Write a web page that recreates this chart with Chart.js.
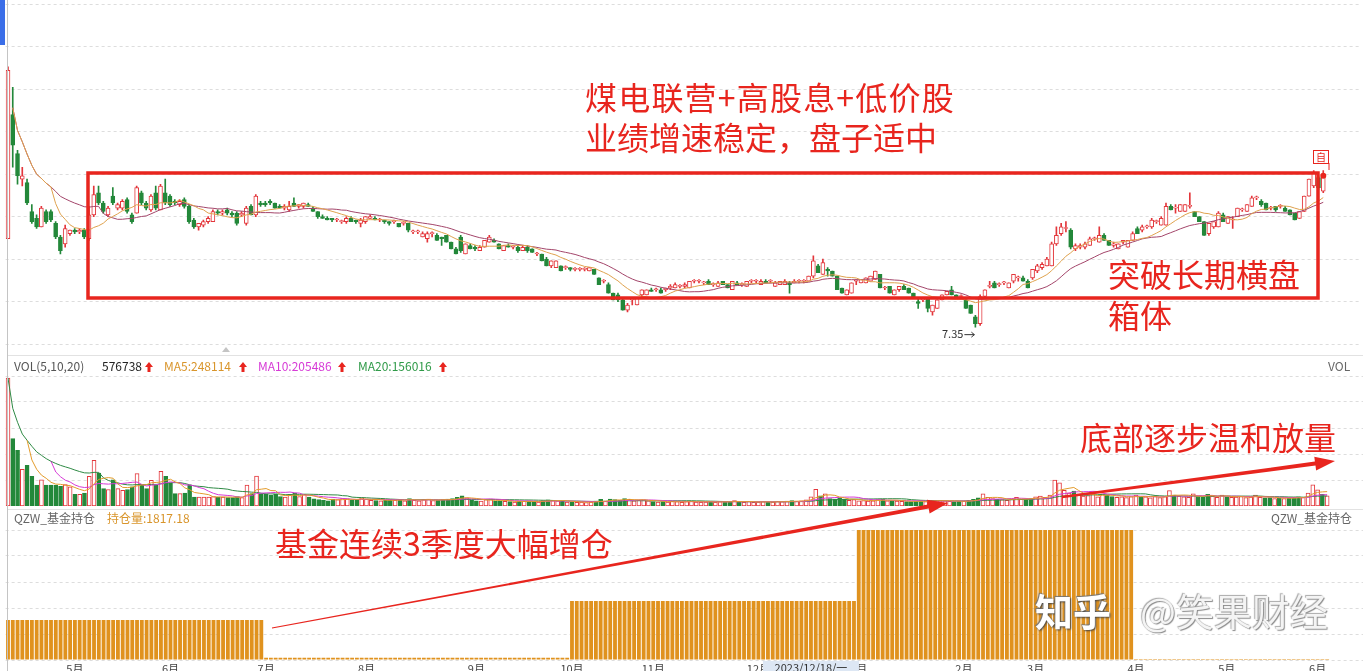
<!DOCTYPE html>
<html>
<head>
<meta charset="utf-8">
<script src="https://cdn.jsdelivr.net/npm/chart.js@4.4.1/dist/chart.umd.min.js"></script>
<style>
  body { margin: 0; background: #fff; }
  #wrap { position: relative; width: 1363px; height: 671px; overflow: hidden; background: #fff;
          font-family: "Noto Sans CJK SC", "Noto Sans", sans-serif; }
  canvas, svg.over { position: absolute; left: 0; }
  .lbl { position: absolute; font-size: 12px; line-height: 16px; white-space: nowrap; color: #555; }
  .note { position: absolute; font-size: 32px; line-height: 32px; color: #e8251e; white-space: nowrap; }
  .up { position: absolute; }
  .wm { position: absolute; top: 590px; font-size: 38px; line-height: 40px; white-space: nowrap; }
</style>
</head>
<body>
<div id="wrap">
  <canvas id="price" width="1363" height="355" style="top:0"></canvas>
  <canvas id="vol" width="1363" height="130" style="top:376px"></canvas>
  <canvas id="fund" width="1363" height="146" style="top:525px"></canvas>

  <svg class="over" width="1363" height="671" style="top:0">
    <rect x="0" y="0" width="5" height="45" fill="#3b6ee8"/>
    <line x1="7.5" y1="0" x2="7.5" y2="671" stroke="#c4c4c4"/>
    <line x1="8" y1="355.5" x2="1363" y2="355.5" stroke="#e2e2e2"/>
    <line x1="8" y1="509.5" x2="1363" y2="509.5" stroke="#e2e2e2"/>
    <path d="M222,352 L226,347 L230,352 Z" fill="#c4c4c4"/>
    <rect x="88" y="173" width="1230" height="125" fill="none" stroke="#e8251e" stroke-width="3.5"/>
    <polygon fill="#e8251e" points="272.1,628.5 928.7,508.6 929.6,513.5 948,503 927,499.7 927.9,504.6 271.9,627.5"/>
    <polygon fill="#e8251e" points="1062.1,498.2 1315.5,465.6 1316.1,470.5 1335,461 1314.3,456.7 1314.9,461.6 1061.9,495.8"/>
    <line x1="1329" y1="163" x2="1329" y2="170" stroke="#e8251e"/>
    <rect x="1313.5" y="150.5" width="15" height="13" fill="#fff" stroke="#e8251e"/>
    <text x="1321" y="161" font-size="10" fill="#e8251e" text-anchor="middle" font-family="Noto Sans CJK SC">自</text>
  </svg>

  <div class="lbl" style="left:14px;top:358px">VOL(5,10,20)</div>
  <div class="lbl" style="left:102px;top:358px;color:#222">576738</div>
  <svg class="up" width="8" height="10" style="left:145px;top:362px"><path d="M4 0 L8 5 L5.5 5 L5.5 10 L2.5 10 L2.5 5 L0 5Z" fill="#e8251e"/></svg>
  <div class="lbl" style="left:164px;top:358px;color:#d9952b">MA5:248114</div>
  <svg class="up" width="8" height="10" style="left:239px;top:362px"><path d="M4 0 L8 5 L5.5 5 L5.5 10 L2.5 10 L2.5 5 L0 5Z" fill="#e8251e"/></svg>
  <div class="lbl" style="left:258px;top:358px;color:#d63ad6">MA10:205486</div>
  <svg class="up" width="8" height="10" style="left:338px;top:362px"><path d="M4 0 L8 5 L5.5 5 L5.5 10 L2.5 10 L2.5 5 L0 5Z" fill="#e8251e"/></svg>
  <div class="lbl" style="left:358px;top:358px;color:#2f9a48">MA20:156016</div>
  <svg class="up" width="8" height="10" style="left:439px;top:362px"><path d="M4 0 L8 5 L5.5 5 L5.5 10 L2.5 10 L2.5 5 L0 5Z" fill="#e8251e"/></svg>
  <div class="lbl" style="left:1328px;top:358px;color:#666">VOL</div>

  <div class="lbl" style="left:14px;top:510px;color:#666">QZW_基金持仓</div>
  <div class="lbl" style="left:107px;top:510px;color:#d9952b">持仓量:1817.18</div>
  <div class="lbl" style="left:1271px;top:510px;color:#666">QZW_基金持仓</div>

  <div class="note" style="left:585px;top:80px;letter-spacing:1.2px">煤电联营+高股息+低价股</div>
  <div class="note" style="left:585px;top:120px">业绩增速稳定，盘子适中</div>
  <div class="note" style="left:1108px;top:257px">突破长期横盘</div>
  <div class="note" style="left:1108px;top:298px">箱体</div>
  <div class="note" style="left:1080px;top:420px">底部逐步温和放量</div>
  <div class="note" style="left:275px;top:526px">基金连续3季度大幅增仓</div>

  <div class="wm" style="left:1035px;color:#fff;font-weight:bold;text-shadow:1px 1px 2px #444,-1px -1px 1px #777">知乎</div>
  <div class="wm" style="left:1140px;color:#f4f4f4;text-shadow:1px 1px 1px #8a8a8a,-1px -1px 1px #aaa">@笑果财经</div>
</div>

<script>
// trading days per month
const months = [
  ['2023-04', 14], ['2023-05', 20], ['2023-06', 20], ['2023-07', 21], ['2023-08', 23],
  ['2023-09', 20], ['2023-10', 17], ['2023-11', 22], ['2023-12', 21], ['2024-01', 22],
  ['2024-02', 15], ['2024-03', 21], ['2024-04', 19], ['2024-05', 19], ['2024-06', 3]
];

// daily [open, high, low, close]
const candles = [
  [7.87,8.88,7.87,8.86],[8.60,8.76,8.29,8.42],[8.37,8.39,8.19,8.24],[8.22,8.29,8.18,8.24],[8.20,8.22,8.07,8.08],
  [8.03,8.07,7.96,7.97],[7.99,8.01,7.93,7.94],[7.94,8.06,7.94,8.05],[8.03,8.04,7.96,7.97],[8.03,8.04,7.97,7.98],
  [7.96,7.97,7.87,7.88],[7.88,7.89,7.78,7.80],[7.84,7.95,7.82,7.93],[7.90,7.92,7.89,7.92],[7.92,7.93,7.90,7.91],
  [7.91,7.93,7.90,7.92],[7.92,7.93,7.87,7.88],[7.87,8.06,7.86,8.01],[8.01,8.18,8.00,8.13],[8.14,8.18,8.07,8.08],
  [8.08,8.09,8.02,8.03],[8.01,8.06,8.00,8.05],[8.12,8.17,8.07,8.08],[8.05,8.08,8.04,8.07],[8.05,8.10,8.04,8.09],
  [8.10,8.11,8.02,8.03],[8.01,8.02,7.96,7.97],[8.02,8.18,8.02,8.17],[8.14,8.15,8.07,8.08],[8.08,8.09,8.04,8.05],
  [8.04,8.13,8.03,8.12],[8.14,8.18,8.04,8.05],[8.04,8.19,8.04,8.18],[8.14,8.22,8.07,8.08],[8.12,8.13,8.06,8.07],
  [8.09,8.10,8.07,8.08],[8.07,8.10,8.06,8.09],[8.10,8.11,8.05,8.06],[8.06,8.07,7.96,7.97],[7.98,7.99,7.93,7.94],
  [7.94,7.96,7.92,7.96],[7.95,7.98,7.94,7.97],[7.97,8.00,7.96,7.99],[7.97,8.04,7.97,8.03],[8.03,8.04,8.01,8.02],
  [8.02,8.04,8.01,8.03],[8.04,8.05,8.01,8.02],[8.02,8.03,8.00,8.01],[8.02,8.03,7.95,7.96],[8.01,8.03,8.00,8.02],
  [7.96,8.06,7.95,8.05],[8.06,8.07,8.01,8.01],[8.01,8.13,8.00,8.12],[8.08,8.09,8.06,8.07],[8.08,8.09,8.06,8.07],
  [8.09,8.10,8.07,8.08],[8.08,8.08,8.05,8.05],[8.06,8.07,8.05,8.05],[8.05,8.07,8.04,8.06],[8.04,8.09,8.03,8.06],
  [8.08,8.11,8.06,8.06],[8.06,8.07,8.05,8.07],[8.06,8.08,8.05,8.08],[8.07,8.08,8.06,8.06],[8.05,8.06,8.03,8.03],
  [8.03,8.03,7.99,8.00],[8.00,8.01,7.99,7.99],[7.99,8.00,7.98,7.98],[7.99,7.99,7.97,7.98],[7.98,7.99,7.97,7.98],
  [7.97,7.98,7.96,7.97],[7.97,8.00,7.96,7.99],[7.99,8.00,7.97,7.97],[7.98,7.98,7.96,7.97],[7.96,7.99,7.94,7.98],
  [7.97,8.00,7.96,8.00],[7.99,8.01,7.99,8.00],[7.99,8.00,7.98,7.98],[7.98,7.99,7.97,7.98],[7.98,7.98,7.96,7.97],
  [7.97,7.97,7.95,7.96],[7.97,7.98,7.96,7.97],[7.96,7.96,7.94,7.94],[7.96,7.97,7.95,7.96],[7.96,7.96,7.91,7.92],
  [7.91,7.92,7.90,7.91],[7.91,7.92,7.90,7.91],[7.88,7.91,7.88,7.90],[7.87,7.91,7.85,7.90],[7.90,7.91,7.88,7.90],
  [7.89,7.90,7.86,7.86],[7.88,7.88,7.83,7.87],[7.89,7.89,7.85,7.85],[7.85,7.85,7.81,7.81],[7.81,7.82,7.78,7.78],
  [7.88,7.89,7.79,7.80],[7.78,7.84,7.78,7.84],[7.83,7.84,7.81,7.81],[7.82,7.83,7.80,7.81],[7.80,7.83,7.80,7.82],
  [7.82,7.86,7.82,7.86],[7.85,7.89,7.85,7.88],[7.86,7.87,7.85,7.85],[7.84,7.84,7.81,7.81],[7.80,7.83,7.80,7.83],
  [7.83,7.84,7.82,7.82],[7.82,7.83,7.81,7.82],[7.82,7.83,7.79,7.80],[7.80,7.83,7.80,7.82],[7.82,7.83,7.79,7.80],
  [7.81,7.81,7.79,7.79],[7.78,7.79,7.77,7.78],[7.78,7.78,7.74,7.74],[7.75,7.76,7.71,7.71],[7.71,7.74,7.70,7.74],
  [7.70,7.74,7.70,7.74],[7.71,7.71,7.68,7.68],[7.70,7.71,7.69,7.70],[7.70,7.70,7.68,7.69],[7.69,7.70,7.68,7.69],
  [7.69,7.70,7.68,7.69],[7.69,7.70,7.68,7.69],[7.68,7.70,7.68,7.70],[7.69,7.69,7.66,7.66],[7.64,7.64,7.60,7.60],
  [7.62,7.63,7.61,7.62],[7.60,7.61,7.55,7.55],[7.55,7.55,7.51,7.51],[7.54,7.55,7.50,7.51],[7.51,7.52,7.45,7.45],
  [7.45,7.49,7.44,7.48],[7.51,7.52,7.48,7.51],[7.48,7.52,7.48,7.52],[7.54,7.57,7.53,7.57],[7.54,7.57,7.54,7.57],
  [7.57,7.58,7.56,7.56],[7.57,7.58,7.56,7.57],[7.57,7.58,7.55,7.55],[7.57,7.58,7.56,7.58],[7.58,7.60,7.57,7.59],
  [7.58,7.61,7.58,7.60],[7.59,7.60,7.58,7.59],[7.59,7.61,7.58,7.60],[7.58,7.62,7.58,7.62],[7.62,7.63,7.61,7.62],
  [7.62,7.63,7.61,7.62],[7.61,7.62,7.60,7.61],[7.62,7.63,7.60,7.60],[7.60,7.61,7.59,7.60],[7.59,7.62,7.59,7.61],
  [7.62,7.62,7.60,7.60],[7.60,7.60,7.58,7.58],[7.57,7.62,7.57,7.62],[7.61,7.62,7.60,7.60],[7.60,7.61,7.59,7.60],
  [7.59,7.62,7.59,7.62],[7.62,7.63,7.61,7.62],[7.62,7.63,7.61,7.62],[7.60,7.63,7.60,7.62],[7.62,7.63,7.61,7.61],
  [7.62,7.63,7.61,7.62],[7.59,7.62,7.59,7.61],[7.60,7.62,7.60,7.62],[7.60,7.63,7.60,7.62],[7.61,7.62,7.55,7.60],
  [7.61,7.63,7.61,7.62],[7.62,7.63,7.61,7.62],[7.62,7.63,7.61,7.62],[7.62,7.65,7.62,7.65],[7.65,7.77,7.64,7.74],
  [7.71,7.72,7.67,7.67],[7.66,7.75,7.66,7.73],[7.69,7.70,7.65,7.68],[7.68,7.68,7.65,7.65],[7.65,7.65,7.57,7.57],
  [7.58,7.58,7.55,7.55],[7.54,7.57,7.54,7.57],[7.55,7.61,7.55,7.61],[7.62,7.63,7.60,7.62],[7.61,7.63,7.61,7.63],
  [7.61,7.64,7.61,7.64],[7.62,7.65,7.62,7.65],[7.63,7.68,7.63,7.68],[7.66,7.66,7.58,7.58],[7.58,7.59,7.57,7.58],
  [7.59,7.59,7.55,7.55],[7.54,7.57,7.54,7.57],[7.57,7.59,7.56,7.59],[7.59,7.60,7.57,7.57],[7.58,7.58,7.55,7.55],
  [7.55,7.55,7.52,7.52],[7.50,7.52,7.46,7.49],[7.51,7.52,7.50,7.51],[7.52,7.52,7.44,7.46],[7.44,7.48,7.42,7.48],
  [7.46,7.51,7.46,7.51],[7.51,7.54,7.51,7.54],[7.54,7.56,7.54,7.56],[7.57,7.59,7.54,7.54],[7.54,7.54,7.52,7.52],
  [7.53,7.54,7.52,7.53],[7.51,7.52,7.46,7.46],[7.48,7.48,7.43,7.43],[7.41,7.42,7.35,7.37],[7.37,7.54,7.36,7.53],
  [7.53,7.57,7.52,7.57],[7.59,7.62,7.58,7.59],[7.61,7.62,7.58,7.58],[7.60,7.61,7.59,7.60],[7.61,7.62,7.60,7.61],
  [7.58,7.61,7.58,7.61],[7.62,7.66,7.61,7.66],[7.64,7.65,7.62,7.64],[7.64,7.65,7.62,7.62],[7.62,7.63,7.58,7.58],
  [7.64,7.69,7.63,7.69],[7.68,7.72,7.67,7.71],[7.70,7.73,7.69,7.72],[7.71,7.76,7.71,7.75],[7.71,7.85,7.71,7.84],
  [7.84,7.94,7.83,7.89],[7.90,7.96,7.89,7.94],[7.93,7.97,7.91,7.93],[7.92,7.93,7.81,7.82],[7.81,7.84,7.80,7.83],
  [7.82,7.84,7.81,7.83],[7.82,7.85,7.81,7.84],[7.83,7.88,7.83,7.87],[7.87,7.88,7.86,7.87],[7.85,7.94,7.85,7.89],
  [7.89,7.90,7.86,7.86],[7.86,7.86,7.83,7.83],[7.83,7.85,7.82,7.84],[7.81,7.84,7.81,7.84],[7.85,7.86,7.84,7.86],
  [7.82,7.86,7.82,7.86],[7.86,7.91,7.86,7.90],[7.93,7.94,7.90,7.90],[7.92,7.95,7.91,7.94],[7.94,7.95,7.93,7.94],
  [7.94,7.99,7.93,7.98],[7.97,7.98,7.96,7.97],[7.95,8.00,7.95,7.99],[7.95,8.08,7.95,8.06],[8.06,8.07,8.04,8.04],
  [8.05,8.07,8.02,8.05],[8.03,8.07,8.03,8.07],[8.03,8.07,8.03,8.07],[8.06,8.14,8.05,8.06],[8.03,8.03,8.00,8.00],
  [8.00,8.00,7.97,7.97],[7.97,7.97,7.89,7.89],[7.90,7.96,7.89,7.96],[7.94,7.97,7.93,7.97],[7.94,8.03,7.94,8.02],
  [8.01,8.02,7.97,7.97],[7.96,8.00,7.96,8.00],[7.98,8.00,7.93,7.98],[8.00,8.05,8.00,8.05],[8.04,8.05,8.03,8.04],
  [8.03,8.07,8.03,8.07],[8.06,8.12,8.06,8.11],[8.11,8.12,8.10,8.11],[8.09,8.10,8.06,8.07],[8.08,8.08,8.04,8.04],
  [8.05,8.06,8.04,8.05],[8.06,8.06,8.03,8.04],[8.06,8.07,8.05,8.06],[8.05,8.06,8.03,8.03],[8.04,8.04,8.01,8.01],
  [8.02,8.02,7.98,7.98],[7.99,8.03,7.99,8.03],[8.03,8.12,8.03,8.12],[8.12,8.22,8.12,8.22],[8.18,8.27,8.17,8.26],
  [8.23,8.24,8.16,8.17],[8.15,8.27,8.14,8.24]
];

// daily volume, thousands
const volumeK = [
  4430,2330,1930,1270,1410,1030,720,910,720,720,
  720,680,740,660,400,400,450,1030,1580,1140,
  600,570,910,600,540,570,660,1120,750,600,
  890,720,1200,1030,790,430,430,450,720,310,
  310,310,310,330,310,310,290,290,330,290,
  720,430,1040,430,400,370,400,330,310,400,
  450,330,400,310,250,220,200,180,240,220,
  260,250,200,220,280,240,200,190,180,200,
  220,200,220,180,260,200,180,220,240,190,
  200,220,240,260,300,350,280,200,180,170,
  220,240,170,180,160,150,140,170,160,170,
  150,140,190,210,200,180,170,140,130,130,
  140,120,140,170,230,160,240,220,200,260,
  230,180,200,210,180,150,140,150,140,160,
  150,130,150,170,140,130,140,150,130,150,
  140,150,190,140,130,160,130,140,150,130,
  140,160,150,170,190,160,180,210,320,577,
  350,420,260,240,280,230,200,220,180,190,
  170,180,220,240,180,190,170,160,150,150,
  160,190,150,180,200,190,180,160,150,160,
  170,200,230,280,420,300,260,230,220,200,
  240,300,230,220,260,320,340,300,380,900,
  800,540,450,520,380,340,360,400,320,420,
  380,330,300,320,290,330,380,300,320,280,
  340,290,330,530,380,340,320,300,420,330,
  310,400,340,300,380,320,300,310,330,290,
  310,380,300,280,290,260,280,260,270,290,
  320,300,450,730,560,400,350
];

// fund holdings per quarter
const fundQuarters = ['2023Q2', '2023Q3', '2023Q4', '2024Q1', '2024Q2'];
const fundHolding = [1230, 70, 1817.18, 4000, 30];

const priceGrid = [7.25, 7.5, 7.75, 8, 8.25, 8.5, 8.75, 9, 9.25];
const volGrid = [900, 1800, 2700, 3600, 4500];
const fundGrid = [0, 800, 1600, 2400, 3200, 4000];

const lowIdx = 203;
const crossIdx = 168;
const crossLabel = '2023/12/18/一';

const RED = '#e3363b';
const GREEN = '#23883a';

// build day labels
let labels = [];
let dayQuarter = [];
let monthStart = [];
months.forEach(function (m) {
    monthStart.push({ idx: labels.length, text: parseInt(m[0].slice(5)) + '月' });
    let q = m[0].slice(0, 4) + 'Q' + Math.ceil(parseInt(m[0].slice(5)) / 3);
    for (let k = 0; k < m[1]; k++) {
        labels.push(m[0] + '-' + (k + 1));
        dayQuarter.push(q);
    }
});
for (let k = 0; k < 7; k++) labels.push('');

function movingAvg(values, n, partial) {
    return values.map(function (v, i) {
        if (i < n - 1 && !partial) return null;
        let from = Math.max(0, i - n + 1);
        let s = 0;
        for (let k = from; k <= i; k++) s += values[k];
        return s / (i - from + 1);
    });
}

const up = candles.map(c => c[3] >= c[0]);
const closes = candles.map(c => c[3]);
let ma10 = movingAvg(closes, 10, true); ma10[0] = null;
let ma20 = movingAvg(closes, 20, true); ma20[0] = null;
let lastDot = closes.map((c, i) => i == closes.length - 1 ? c : null);
const fundDaily = dayQuarter.map(q => fundHolding[fundQuarters.indexOf(q)]);

function xScale() {
    return { type: 'category', display: false, offset: true };
}

function yScale(min, max, grid) {
    return {
        position: 'right', min: min, max: max,
        afterBuildTicks: function (ax) { ax.ticks = grid.map(v => ({ value: v })); },
        afterFit: function (ax) { ax.width = 0; },
        ticks: { display: false },
        grid: { color: '#dddddd', drawTicks: false },
        border: { display: false, dash: [3, 3] }
    };
}

const baseOptions = {
    responsive: false,
    animation: false,
    events: [],
    plugins: { legend: { display: false }, tooltip: { enabled: false } }
};

const lowLabel = {
    id: 'lowLabel',
    afterDatasetsDraw(chart) {
        let ctx = chart.ctx;
        let x = chart.scales.x.getPixelForValue(lowIdx);
        let y = chart.scales.y.getPixelForValue(candles[lowIdx][2]) + 7;
        ctx.save();
        ctx.font = '11px "Noto Sans CJK SC", sans-serif';
        ctx.fillStyle = '#333';
        ctx.textAlign = 'right';
        ctx.textBaseline = 'middle';
        ctx.fillText(candles[lowIdx][2].toFixed(2), x - 12, y);
        ctx.strokeStyle = '#333';
        ctx.beginPath();
        ctx.moveTo(x - 11, y + 0.5); ctx.lineTo(x - 1, y + 0.5);
        ctx.moveTo(x - 4, y - 2); ctx.lineTo(x - 1, y + 0.5); ctx.lineTo(x - 4, y + 3);
        ctx.stroke();
        ctx.restore();
    }
};

new Chart(document.getElementById('price'), {
    type: 'bar',
    data: {
        labels: labels,
        datasets: [
            { type: 'line', data: ma10, borderColor: '#dfa24e', borderWidth: 1, pointRadius: 0, order: 0 },
            { type: 'line', data: ma20, borderColor: '#a3456a', borderWidth: 1, pointRadius: 0, order: 0 },
            { type: 'line', data: lastDot, showLine: false, pointRadius: 3, pointBackgroundColor: '#e8251e', pointBorderWidth: 0, order: 0 },
            {
                data: candles.map(c => [Math.min(c[0], c[3]), Math.max(c[0], c[3])]),
                backgroundColor: up.map(u => u ? '#ffffff' : GREEN),
                borderColor: up.map(u => u ? RED : GREEN),
                borderWidth: 1, borderSkipped: false, barThickness: 4, minBarLength: 1,
                grouped: false, order: 1
            },
            {
                data: candles.map(c => [c[2], c[1]]),
                backgroundColor: up.map(u => u ? RED : GREEN),
                barThickness: 1, grouped: false, order: 2
            }
        ]
    },
    options: Object.assign({}, baseOptions, {
        layout: { padding: { left: 5.6 } },
        scales: { x: xScale(), y: yScale(9.25 - 355 / 174, 9.25, priceGrid) }
    }),
    plugins: [lowLabel]
});

new Chart(document.getElementById('vol'), {
    type: 'bar',
    data: {
        labels: labels,
        datasets: [
            { type: 'line', data: movingAvg(volumeK, 5, false), borderColor: '#e39b2b', borderWidth: 1, pointRadius: 0, order: 0 },
            { type: 'line', data: movingAvg(volumeK, 10, false), borderColor: '#d63ad6', borderWidth: 1, pointRadius: 0, order: 0 },
            { type: 'line', data: movingAvg(volumeK, 20, true), borderColor: '#2f8a45', borderWidth: 1, pointRadius: 0, order: 0 },
            {
                data: volumeK,
                backgroundColor: up.map(u => u ? '#ffffff' : GREEN),
                borderColor: up.map(u => u ? RED : GREEN),
                borderWidth: 1, borderSkipped: false, barThickness: 4, order: 1
            }
        ]
    },
    options: Object.assign({}, baseOptions, {
        layout: { padding: { left: 5.6 } },
        scales: { x: xScale(), y: yScale(0, 4500, volGrid) }
    })
});

const monthAxis = {
    id: 'monthAxis',
    afterDraw(chart) {
        let ctx = chart.ctx;
        let sx = chart.scales.x;
        ctx.save();
        ctx.font = '11px "Noto Sans CJK SC", sans-serif';
        ctx.fillStyle = '#444';
        ctx.textAlign = 'center';
        ctx.textBaseline = 'top';
        monthStart.slice(1).forEach(function (m) {
            ctx.fillText(m.text, sx.getPixelForValue(m.idx), 138);
        });
        let cx = sx.getPixelForValue(crossIdx);
        ctx.fillStyle = '#dde7f4';
        ctx.fillRect(cx - 48, 136, 96, 14);
        ctx.fillStyle = '#333';
        ctx.fillText(crossLabel, cx, 137);
        ctx.restore();
    }
};

new Chart(document.getElementById('fund'), {
    type: 'bar',
    data: {
        labels: labels,
        datasets: [{
            data: fundDaily,
            backgroundColor: '#e0921e',
            barPercentage: 0.8, categoryPercentage: 1
        }]
    },
    options: Object.assign({}, baseOptions, {
        layout: { padding: { left: 5.6, top: 5, bottom: 11 } },
        scales: { x: xScale(), y: yScale(0, 4000, fundGrid) }
    }),
    plugins: [monthAxis]
});
</script>
</body>
</html>
